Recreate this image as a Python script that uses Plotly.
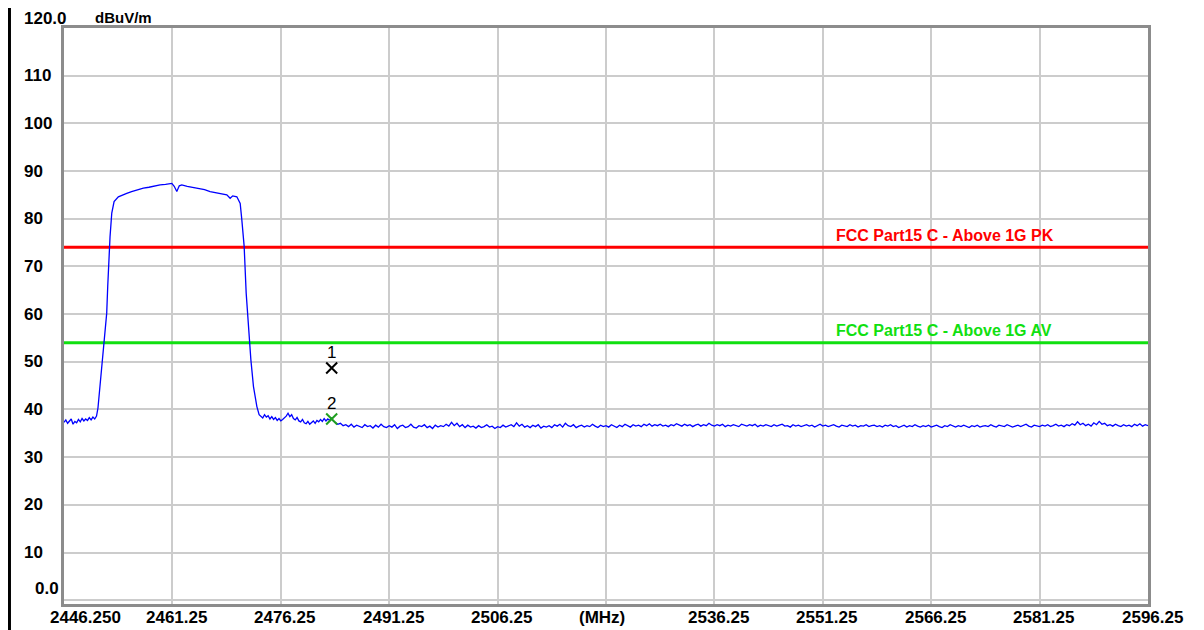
import numpy as np
import plotly.graph_objects as go

# sweep data (MHz / dBuV/m)
freq_left = np.arange(2446.25, 2450.76, 0.25)
level_left = [37.3, 37.8, 37.1, 37.6, 38.0, 36.9, 37.5, 37.2, 37.9, 37.4,
              38.1, 37.6, 38.0, 37.7, 38.3, 37.8, 38.4, 38.0, 38.6]

freq_band = [2450.95, 2451.24, 2451.61, 2451.93, 2452.16, 2452.30, 2452.44, 2452.62, 2452.86,
             2453.18, 2453.77, 2454.3, 2454.93, 2455.6, 2456.2, 2457.23, 2458.0, 2458.8,
             2459.55, 2460.3, 2461.17, 2461.5, 2461.86, 2462.2, 2462.55, 2463.3, 2464.16,
             2465.0, 2465.7, 2466.47, 2467.2, 2468.0, 2468.78, 2469.24, 2469.6, 2470.17,
             2470.63, 2470.86, 2471.18, 2471.46, 2471.78, 2472.11, 2472.47, 2472.94, 2473.25]
level_band = [40.3, 44.8, 50.4, 56.0, 60.2, 65.8, 71.4, 76.2, 81.2,
              83.6, 84.6, 85.0, 85.3, 85.7, 86.0, 86.4, 86.6, 86.9,
              87.1, 87.2, 87.4, 86.8, 85.7, 86.9, 87.1, 86.8, 86.6,
              86.3, 86.1, 85.7, 85.5, 85.3, 85.0, 84.3, 84.8, 84.6,
              83.2, 79.7, 74.2, 64.4, 57.4, 50.4, 44.8, 40.6, 38.9]

freq_skirt = np.arange(2473.5, 2483.51, 0.25)
level_skirt = [38.6, 38.2, 38.9, 38.4, 38.7, 38.0, 38.5, 37.9, 38.3, 37.7,
               38.1, 37.6, 37.9, 38.2, 38.6, 39.2, 38.5, 38.9, 38.1, 37.8,
               38.3, 37.6, 37.4, 37.9, 37.2, 37.0, 37.5, 36.9, 37.3, 37.6,
               37.1, 37.7, 37.4, 37.9, 37.5, 38.1, 37.6, 38.0, 37.7, 38.2, 37.6]

freq_floor = np.arange(2483.75, 2596.26, 0.375)
level_floor = [
    37.3, 36.9, 37.1, 36.6, 36.8, 36.4, 36.9, 36.3, 36.7, 36.5, 36.2, 36.8, 36.4, 36.6, 36.1, 36.7, 36.3, 36.9, 36.4, 36.2,
    36.6, 36.3, 36.8, 36.0, 36.5, 36.7, 36.2, 36.4, 36.9, 36.3, 36.1, 36.6, 36.4, 36.8, 36.2, 36.5, 36.0, 36.7, 36.3, 36.6,
    36.4, 36.9, 36.5, 37.3, 36.6, 37.1, 36.4, 36.8, 36.2, 36.7, 36.3, 36.5, 36.1, 36.6, 36.2, 36.4, 36.8, 36.3, 36.5, 36.0,
    36.4, 36.2, 36.7, 36.3, 36.6, 36.8, 36.4, 37.2, 36.5, 36.9, 36.3, 36.6, 36.2, 36.7, 36.4, 36.8, 36.1, 36.5, 36.3, 36.6,
    36.2, 36.8, 36.5, 36.9, 36.3, 37.1, 36.6, 36.4, 36.8, 36.2, 36.5, 36.7, 36.3, 36.6, 36.4, 36.9, 36.5, 36.2, 36.7, 36.4,
    36.6, 36.3, 36.8, 36.5, 36.2, 36.7, 36.4, 36.9, 36.6, 36.3, 36.8, 36.5, 36.7, 36.4, 36.9, 36.6, 37.0, 36.5, 36.8, 36.6,
    36.9, 36.5, 36.7, 36.4, 36.8, 36.6, 37.0, 36.7, 36.5, 36.9, 36.6, 36.8, 36.4, 36.7, 36.9, 36.5, 36.8, 36.6, 37.1, 36.7,
    36.5, 36.8, 36.6, 36.9, 36.4, 36.7, 36.5, 36.8, 36.6, 36.4, 36.9, 36.7, 36.5, 36.8, 36.6, 36.9, 36.4, 36.7, 36.5, 36.8,
    36.6, 36.4, 36.8, 36.5, 36.7, 36.9, 36.5, 36.6, 36.3, 36.8, 36.5, 36.7, 36.4, 36.6, 36.8, 36.5, 36.7, 36.3, 36.6, 36.9,
    36.5, 36.7, 36.4, 36.6, 36.8, 36.5, 36.3, 36.7, 36.6, 36.4, 36.8, 36.5, 36.7, 36.3, 36.6, 36.5, 36.8, 36.4, 36.6, 36.7,
    36.4, 36.6, 36.3, 36.7, 36.5, 36.8, 36.4, 36.6, 36.2, 36.5, 36.7, 36.3, 36.6, 36.4, 36.8, 36.5, 36.3, 36.6, 36.4, 36.7,
    36.3, 36.5, 36.7, 36.4, 36.2, 36.6, 36.4, 36.8, 36.5, 36.3, 36.6, 36.4, 36.7, 36.5, 36.2, 36.6, 36.4, 36.7, 36.3, 36.5,
    36.6, 36.4, 36.8, 36.5, 36.3, 36.7, 36.5, 36.4, 36.8, 36.6, 36.3, 36.5, 36.7, 36.4, 36.6, 36.9, 36.5, 36.3, 36.7, 36.5,
    36.4, 36.7, 36.5, 36.8, 36.4, 36.6, 36.9, 36.5, 36.7, 36.4, 36.8, 36.6, 37.0, 36.7, 37.4, 36.8, 37.1, 36.6, 36.9, 36.5,
    37.2, 36.8, 37.5, 36.9, 37.1, 36.6, 36.8, 36.5, 36.9, 36.6, 36.4, 36.8, 36.5, 36.7, 36.4, 36.9, 36.6, 37.0, 36.5, 36.8,
    36.6]

limit_names = ["FCC Part15 C - Above 1G PK", "FCC Part15 C - Above 1G AV"]
limit_levels = [74, 54]
limit_colors = ["#ff0000", "#10e010"]

marker_names = ["1", "2"]
marker_freq = [2483.29, 2483.29]
marker_level = [48.7, 38.0]
marker_colors = ["#000000", "#1f9f1f"]

x_ticks = [2446.25, 2461.25, 2476.25, 2491.25, 2506.25, 2521.25, 2536.25, 2551.25, 2566.25, 2581.25, 2596.25]
x_labels = ["2446.250", "2461.25", "2476.25", "2491.25", "2506.25", "(MHz)", "2536.25", "2551.25", "2566.25", "2581.25", "2596.25"]
y_ticks = [0, 10, 20, 30, 40, 50, 60, 70, 80, 90, 100, 110, 120]
y_labels = ["0.0", "10", "20", "30", "40", "50", "60", "70", "80", "90", "100", "110", "120.0"]

x_min, x_max = 2446.25, 2596.25
FONT = "Liberation Sans"

freq = np.concatenate([freq_left, freq_band, freq_skirt, freq_floor])
level = np.concatenate([level_left, level_band, level_skirt, level_floor])

fig = go.Figure()

# limit lines
for name, lv, col in zip(limit_names, limit_levels, limit_colors):
    fig.add_trace(go.Scatter(x=[x_min, x_max], y=[lv, lv], mode="lines",
                             line=dict(color=col, width=3), hoverinfo="skip"))
    fig.add_annotation(x=2552.76, y=lv, xref="x", yref="y", text=name, showarrow=False,
                       xanchor="left", yanchor="middle", yshift=12,
                       font=dict(family=FONT, size=16, color=col, weight="bold"))

# spectrum trace
fig.add_trace(go.Scatter(x=freq, y=level, mode="lines",
                         line=dict(color="#0000ff", width=1.3)))

# markers
for name, f, lv, col in zip(marker_names, marker_freq, marker_level, marker_colors):
    fig.add_trace(go.Scatter(x=[f], y=[lv], mode="markers",
                             marker=dict(symbol="x-thin", size=11, line=dict(color=col, width=2))))
    fig.add_annotation(x=f, y=lv, text=name, showarrow=False, yshift=15,
                       font=dict(family=FONT, size=17, color="#000000"))

# tick labels placed like the analyser software does
for v, t in zip(x_ticks, x_labels):
    shift = 4
    if t == "2446.250":
        shift = 21
    elif t == "(MHz)":
        shift = -4
    fig.add_annotation(x=v, y=0, xref="x", yref="paper", text=t, showarrow=False,
                       xanchor="center", yanchor="middle", xshift=shift, yshift=-13,
                       font=dict(family=FONT, size=17, color="#000000", weight="bold"))

for v, t in zip(y_ticks, y_labels):
    xs, ys = -42, 0
    if t == "120.0":
        ys = 10
    elif t == "0.0":
        xs, ys = -31, 12
    fig.add_annotation(x=0, y=v, xref="paper", yref="y", text=t, showarrow=False,
                       xanchor="left", yanchor="middle", xshift=xs, yshift=ys,
                       font=dict(family=FONT, size=17, color="#000000", weight="bold"))

fig.add_annotation(x=0, y=120, xref="paper", yref="y", text="dBuV/m", showarrow=False,
                   xanchor="left", yanchor="middle", xshift=29, yshift=11,
                   font=dict(family=FONT, size=15, color="#000000", weight="bold"))

# black frame line on the left edge of the window
fig.add_shape(type="line", xref="paper", yref="paper", x0=-0.0503, x1=-0.0503, y0=-0.08, y1=1.05,
              line=dict(color="#000000", width=3))

# the page adds an 8px body margin, so margins are trimmed to keep the plot box in place
fig.update_layout(
    width=1204, height=630,
    margin=dict(l=56, r=64, t=20, b=34),
    paper_bgcolor="#ffffff", plot_bgcolor="#ffffff",
    showlegend=False,
)
fig.update_xaxes(range=[x_min, x_max], tickvals=x_ticks, showticklabels=False, ticks="",
                 showgrid=True, gridcolor="#cccccc", gridwidth=2, zeroline=False,
                 showline=True, linecolor="#8c8c8c", linewidth=3, mirror=True)
fig.update_yaxes(range=[-0.8, 120], tickvals=y_ticks, showticklabels=False, ticks="",
                 showgrid=True, gridcolor="#cccccc", gridwidth=2, zeroline=False,
                 showline=True, linecolor="#8c8c8c", linewidth=3, mirror=True)

fig.write_html("out.html")
